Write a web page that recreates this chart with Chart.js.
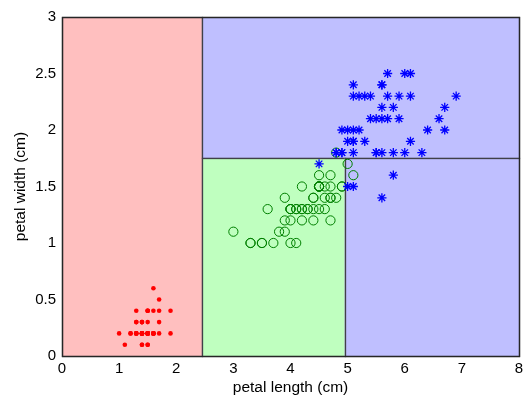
<!DOCTYPE html>
<html>
<head>
<meta charset="utf-8">
<script src="https://cdn.jsdelivr.net/npm/chart.js@4"></script>
<style>
  html, body { margin: 0; padding: 0; background: #fff; }
  #wrap { width: 525px; height: 398px; }
</style>
</head>
<body>
<div id="wrap"><canvas id="c"></canvas></div>
<script>
// petal length / petal width per species (cm)
const setosaLen = [1.4,1.4,1.3,1.5,1.4,1.7,1.4,1.5,1.4,1.5,1.5,1.6,1.4,1.1,1.2,1.5,1.3,1.4,1.7,1.5,1.7,1.5,1.0,1.7,1.9,1.6,1.6,1.5,1.4,1.6,1.6,1.5,1.5,1.4,1.5,1.2,1.3,1.4,1.3,1.5,1.3,1.3,1.3,1.6,1.9,1.4,1.6,1.4,1.5,1.4]
const setosaWid = [0.2,0.2,0.2,0.2,0.2,0.4,0.3,0.2,0.2,0.1,0.2,0.2,0.1,0.1,0.2,0.4,0.4,0.3,0.3,0.3,0.2,0.4,0.2,0.5,0.2,0.2,0.4,0.2,0.2,0.2,0.2,0.4,0.1,0.2,0.2,0.2,0.2,0.1,0.2,0.2,0.3,0.3,0.2,0.6,0.4,0.3,0.2,0.2,0.2,0.2]

const versiLen = [4.7,4.5,4.9,4.0,4.6,4.5,4.7,3.3,4.6,3.9,3.5,4.2,4.0,4.7,3.6,4.4,4.5,4.1,4.5,3.9,4.8,4.0,4.9,4.7,4.3,4.4,4.8,5.0,4.5,3.5,3.8,3.7,3.9,5.1,4.5,4.5,4.7,4.4,4.1,4.0,4.4,4.6,4.0,3.3,4.2,4.2,4.2,4.3,3.0,4.1]
const versiWid = [1.4,1.5,1.5,1.3,1.5,1.3,1.6,1.0,1.3,1.4,1.0,1.5,1.0,1.4,1.3,1.4,1.5,1.0,1.5,1.1,1.8,1.3,1.5,1.2,1.3,1.4,1.4,1.7,1.5,1.0,1.1,1.0,1.2,1.6,1.5,1.6,1.5,1.3,1.3,1.3,1.2,1.4,1.2,1.0,1.3,1.2,1.3,1.3,1.1,1.3]

const virgLen = [6.0,5.1,5.9,5.6,5.8,6.6,4.5,6.3,5.8,6.1,5.1,5.3,5.5,5.0,5.1,5.3,5.5,6.7,6.9,5.0,5.7,4.9,6.7,4.9,5.7,6.0,4.8,4.9,5.6,5.8,6.1,6.4,5.6,5.1,5.6,6.1,5.6,5.5,4.8,5.4,5.6,5.1,5.1,5.9,5.7,5.2,5.0,5.2,5.4,5.1]
const virgWid = [2.5,1.9,2.1,1.8,2.2,2.1,1.7,1.8,1.8,2.5,2.0,1.9,2.1,2.0,2.4,2.3,1.8,2.2,2.3,1.5,2.3,2.0,2.0,1.8,2.1,1.8,1.8,1.8,2.1,1.6,1.9,2.0,2.2,1.5,1.4,2.3,2.4,1.8,1.8,2.1,2.4,2.3,1.9,2.3,2.5,2.3,1.9,2.0,2.3,1.8]

// decision regions [x0, x1, y0, y1]
const regionBoxes = [[0, 2.45, 0, 3], [2.45, 8, 1.75, 3], [2.45, 4.95, 0, 1.75], [4.95, 8, 0, 1.75]]
const regionColors = ['#ffbfbf', '#bfbfff', '#bfffbf', '#bfbfff']

const xTicks = [0,1,2,3,4,5,6,7,8]
const yTicks = [0,0.5,1,1.5,2,2.5,3]

function pts(xs, ys) {
  return xs.map((v, i) => ({x: v, y: ys[i]}))
}

// fond des régions + cadre
const regionsPlugin = {
  id: 'regions',
  beforeDatasetsDraw(chart) {
    const ctx = chart.ctx
    const sx = chart.scales.x, sy = chart.scales.y
    ctx.save()
    regionBoxes.forEach((b, i) => {
      const x0 = sx.getPixelForValue(b[0]), x1 = sx.getPixelForValue(b[1])
      const y0 = sy.getPixelForValue(b[2]), y1 = sy.getPixelForValue(b[3])
      ctx.fillStyle = regionColors[i]
      ctx.fillRect(x0, y1, x1 - x0, y0 - y1)
      ctx.strokeStyle = '#404048'
      ctx.lineWidth = 1.3
      ctx.strokeRect(Math.round(x0) + 0.5, Math.round(y1) + 0.5, Math.round(x1 - x0), Math.round(y0 - y1))
    })
    const a = chart.chartArea
    ctx.strokeStyle = '#262626'
    ctx.strokeRect(Math.round(a.left) + 0.5, Math.round(a.top) + 0.5, Math.round(a.right - a.left), Math.round(a.bottom - a.top))
    ctx.restore()
  }
}

const tickFont = {family: 'Liberation Sans, Arial, sans-serif', size: 15}
const titleFont = {family: 'Liberation Sans, Arial, sans-serif', size: 15.5}

new Chart(document.getElementById('c'), {
  type: 'scatter',
  data: {
    datasets: [
      {label: 'setosa', data: pts(setosaLen, setosaWid), order: 2,
       pointStyle: 'circle', pointRadius: 2.3, backgroundColor: '#ff0000', borderColor: '#ff0000', borderWidth: 0},
      {label: 'versicolor', data: pts(versiLen, versiWid), order: 1,
       pointStyle: 'circle', pointRadius: 4.6, backgroundColor: 'rgba(0,0,0,0)', borderColor: '#008000', borderWidth: 1},
      {label: 'virginica', data: pts(virgLen, virgWid), order: 0,
       pointStyle: 'star', pointRadius: 4.6, backgroundColor: '#0000ff', borderColor: '#0000ff', borderWidth: 1.3}
    ]
  },
  options: {
    responsive: true,
    maintainAspectRatio: false,
    animation: false,
    layout: {padding: {left: 0, right: 6, top: 17, bottom: 0}},
    plugins: {legend: {display: false}, tooltip: {enabled: false}},
    scales: {
      x: {
        type: 'linear', min: 0, max: 8,
        afterBuildTicks: s => { s.ticks = xTicks.map(v => ({value: v})) },
        afterFit: s => { s.height = 42; s.paddingLeft = 0; s.paddingRight = 0 },
        grid: {display: false, drawTicks: false},
        border: {display: false},
        ticks: {color: '#000', font: tickFont, padding: 4, maxRotation: 0, callback: v => String(v)},
        title: {display: true, text: 'petal length (cm)', color: '#000', font: titleFont, padding: {top: 0, bottom: 1}}
      },
      y: {
        type: 'linear', min: 0, max: 3,
        afterBuildTicks: s => { s.ticks = yTicks.map(v => ({value: v})) },
        afterFit: s => { s.width = 62; s.paddingTop = 0; s.paddingBottom = 0 },
        grid: {display: false, drawTicks: false},
        border: {display: false},
        ticks: {color: '#000', font: tickFont, padding: 6, callback: v => String(v)},
        title: {display: true, text: 'petal width (cm)', color: '#000', font: titleFont, padding: {top: 11, bottom: 0}}
      }
    }
  },
  plugins: [regionsPlugin]
})
</script>
</body>
</html>
